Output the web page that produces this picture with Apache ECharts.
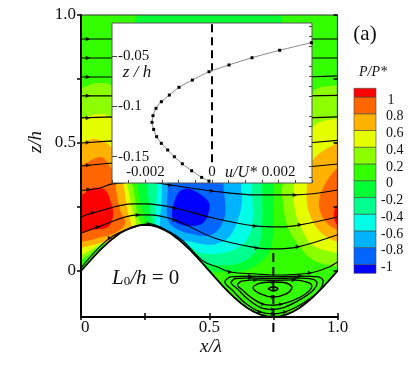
<!DOCTYPE html>
<html><head><meta charset="utf-8">
<style>html,body{margin:0;padding:0;background:#fff}#c{width:415px;height:369px}</style>
<script src="https://cdn.jsdelivr.net/npm/echarts@6/dist/echarts.min.js"></script>
</head><body><div id="c"></div>
<script>
// ---- bed profile z/h against x/lambda
const bedX=[0,.025,.05,.075,.1,.125,.15,.175,.2,.225,.25,.275,.3,.325,.35,.375,.4,.425,.45,.475,.5,.525,.55,.575,.6,.625,.65,.675,.7,.725,.75,.775,.8,.825,.85,.875,.9,.925,.95,.975,1];
const bedZ=[0,.028,.056,.082,.106,.127,.146,.16,.171,.178,.18,.178,.171,.16,.146,.127,.106,.082,.056,.028,0,-.028,-.056,-.082,-.106,-.127,-.146,-.16,-.171,-.178,-.18,-.178,-.171,-.16,-.146,-.127,-.106,-.082,-.056,-.028,0];
// ---- pressure contours, [x/lambda, z/h]
const negP0=[[.25,1.05],[.75,1.05],[.749,.5],[.749,.316],[.745,.109],[.71,.043],[.632,0],[.503,-.008],[.4,-.05],[.26,.1],[.253,.18],[.242,.227],[.222,.324],[.22,.5]];
const negP2=[[.257,.395],[.706,.395],[.706,.324],[.706,.176],[.686,.082],[.62,.031],[.53,.023],[.464,.039],[.35,.04],[.273,.152],[.273,.18],[.269,.238],[.257,.328]];
const negP4=[[.296,.395],[.667,.395],[.667,.324],[.667,.176],[.628,.102],[.554,.07],[.464,.07],[.425,.09],[.36,.03],[.292,.12],[.289,.168],[.296,.324]];
const negP6=[[.316,.395],[.624,.395],[.624,.324],[.628,.277],[.612,.199],[.573,.129],[.503,.102],[.398,.117],[.36,.09],[.32,.12],[.308,.168],[.312,.25],[.316,.324]];
const negP8=[[.339,.395],[.554,.395],[.554,.35],[.561,.277],[.561,.215],[.534,.16],[.495,.137],[.413,.148],[.366,.168],[.339,.199],[.335,.266],[.339,.33]];
const negP10=[[.425,.32],[.495,.273],[.499,.234],[.476,.1875],[.425,.176],[.374,.1875],[.355,.215],[.366,.277],[.386,.3125]];
const posL2=[[-.05,.715],[0,.715],[.062,.734],[.121,.719],[.18,.395],[.203,.324],[.222,.211],[.234,.18],[.21,.12],[.097,.109],[0,.043],[-.05,.043]];
const posL4=[[-.05,.598],[0,.598],[.066,.613],[.117,.598],[.168,.395],[.183,.324],[.203,.227],[.214,.18],[.172,.10],[.105,.115],[0,.0625],[-.05,.0625]];
const posL6=[[-.05,.5],[0,.5],[.055,.516],[.117,.484],[.152,.395],[.168,.324],[.183,.227],[.195,.176],[.16,.113],[.113,.117],[0,.09],[-.05,.09]];
const posL8=[[-.05,.414],[0,.414],[.078,.445],[.117,.402],[.136,.355],[.136,.324],[.152,.238],[.172,.1875],[.133,.148],[.066,.129],[0,.113],[-.05,.113]];
const posL10=[[-.05,.30],[0,.297],[.047,.324],[.094,.316],[.117,.266],[.125,.219],[.105,.172],[.039,.16],[0,.148],[-.05,.148]];
const posR2=[[1.05,.74],[1,.727],[.905,.699],[.81,.395],[.784,.324],[.788,.266],[.803,.18],[.842,.109],[.905,.043],[1,.016],[1.05,.016]];
const posR4=[[1.05,.60],[1,.598],[.905,.5625],[.853,.395],[.827,.316],[.838,.219],[.866,.152],[.905,.098],[1,.07],[1.05,.07]];
const posR6=[[1.05,.51],[1,.5],[.905,.434],[.88,.316],[.889,.227],[.932,.152],[1,.113],[1.05,.113]];
const posR8=[[1.05,.41],[1,.402],[.94,.316],[.928,.25],[.955,.191],[1,.16],[1.05,.16]];
const posR10=[[1.05,.26],[1,.258],[.986,.219],[1,.18],[1.05,.18]];
// ---- streamlines
const upperLines=[
 [[0,.906],[.121,.906],[.88,.906],[1,.906]],
 [[0,.832],[.121,.832],[.88,.832],[1,.832]],
 [[0,.758],[.121,.758],[.88,.758],[1,.762]],
 [[0,.684],[.121,.684],[.88,.684],[1,.686]],
 [[0,.598],[.121,.602],[.88,.598],[1,.602]],
 [[0,.5],[.121,.508],[.88,.5],[1,.51]],
 [[0,.41],[.121,.422],[.88,.406],[1,.418]]];
const line1=[[0,.314],[.074,.324],[.121,.34],[.25,.348],[.347,.336],[.511,.3125],[.686,.297],[.834,.297],[1,.316]];
const line2=[[0,.211],[.047,.227],[.203,.262],[.257,.262],[.366,.246],[.515,.207],[.678,.176],[.776,.172],[.854,.18],[1,.211]];
const line3=[[0,.148],[.066,.172],[.222,.219],[.261,.219],[.366,.199],[.519,.129],[.686,.09],[.749,.086],[.846,.094],[1,.141]];
const line4=[[0,.012],[.113,.129],[.222,.176],[.265,.184],[.347,.152],[.398,.117],[.476,.039],[.53,.016],[.581,-.004],[.686,-.012],[.749,-.016],[.893,-.008],[.959,.012],[1,.035]];
const loopA=[[.581,-.023],[.659,-.02],[.749,-.023],[.854,-.02],[.924,-.023],[.944,-.039],[.924,-.082],[.854,-.133],[.796,-.16],[.749,-.168],[.698,-.16],[.64,-.125],[.589,-.074],[.561,-.043],[.581,-.023]];
const loopB=[[.60,-.03],[.66,-.027],[.749,-.03],[.84,-.027],[.905,-.033],[.92,-.047],[.90,-.08],[.84,-.12],[.79,-.143],[.749,-.15],[.70,-.143],[.65,-.11],[.61,-.07],[.585,-.045],[.60,-.03]];
const loopC=[[.625,-.04],[.68,-.035],[.749,-.037],[.83,-.035],[.885,-.045],[.90,-.06],[.875,-.09],[.82,-.118],[.78,-.13],[.749,-.134],[.71,-.13],[.665,-.105],[.63,-.075],[.61,-.055],[.625,-.04]];
const loopD=[[.70,-.047],[.749,-.043],[.80,-.047],[.823,-.065],[.80,-.09],[.749,-.102],[.70,-.09],[.671,-.065],[.70,-.047]];
const loopE=[[.729,-.07],[.749,-.062],[.768,-.07],[.749,-.078],[.729,-.07]];
const arrows=[[.027,.906],[.027,.832],[.027,.758],[.027,.684],[.027,.598],[.027,.502],[.027,.413],
 [.03,.318],[.347,.336],[.511,.3125],[.834,.297],
 [.047,.227],[.366,.246],[.678,.176],[.854,.18],
 [.066,.172],[.222,.219],[.366,.199],[.686,.09],[.846,.094],
 [.113,.129],[.265,.184],[.581,-.004],[.893,-.008]];
const arrowsLoop=[[.659,-.02],[.854,-.02],[.66,-.027],[.84,-.027],[.68,-.035],[.83,-.035],[.749,-.043],[.749,-.168],[.698,-.16],[.796,-.16],[.71,-.13],[.78,-.13],[.749,-.102],[.749,-.15]];
const wakeDash=[[.75,.07],[.75,-.25]];
// ---- inset profile
const insetU=[.00298,.00203,.0012,.00051,-.00009,-.00059,-.00099,-.00128,-.00152,-.00168,-.00177,-.0018,-.00175,-.00166,-.00152,-.00133,-.00113,-.00089,-.00061,-.00031,-.00009];
const insetZ=[-.0368,-.0443,-.0517,-.0589,-.0656,-.0739,-.0811,-.0888,-.0954,-.102,-.1093,-.1159,-.1229,-.1302,-.1368,-.1434,-.1501,-.1571,-.164,-.1706,-.1743];
const insetZeroDash=[[0,-.0185],[0,-.157]];
const insetUTicks=[-.002,0,.002];
const insetZTicks=[-.05,-.1,-.15];
const insetZMinor=[-.02,-.03,-.04,-.06,-.07,-.08,-.09,-.11,-.12,-.13,-.14,-.16,-.17];
// ---- colour scale
const levelColors=['#0000ff','#0066ff','#00b3ff','#00ffe6','#00ff8c','#00ff33','#33ff00','#8cff00','#e6ff00','#ffb300','#ff6600','#ff0000'];
const levelEdges=[-1.107,-1,-.8,-.6,-.4,-.2,0,.2,.4,.6,.8,1,1.104];
const levelLabels=[1,.8,.6,.4,.2,0,-.2,-.4,-.6,-.8,-1];
const xTickLabels=[0,.5,1];
const zTickLabels=[0,.5,1];

const C={n10:levelColors[0],n8:levelColors[1],n6:levelColors[2],n4:levelColors[3],n2:levelColors[4],n0:levelColors[5],p0:levelColors[6],p2:levelColors[7],p4:levelColors[8],p6:levelColors[9],p8:levelColors[10],p10:levelColors[11]};
const bands=[
 {p:[[-.05,1.05],[1.05,1.05],[1.05,-.3],[-.05,-.3]],c:C.p0,flat:true},
 {p:negP0,c:C.n0},{p:negP2,c:C.n2},{p:negP4,c:C.n4},{p:negP6,c:C.n6},{p:negP8,c:C.n8},{p:negP10,c:C.n10},
 {p:posL2,c:C.p2},{p:posL4,c:C.p4},{p:posL6,c:C.p6},{p:posL8,c:C.p8},{p:posL10,c:C.p10},
 {p:posR2,c:C.p2},{p:posR4,c:C.p4},{p:posR6,c:C.p6},{p:posR8,c:C.p8},{p:posR10,c:C.p10}];
const bed=bedX.map((x,i)=>[x,bedZ[i]]);
const mask=bed.concat([[1.05,0],[1.05,-.3],[-.05,-.3],[-.05,0]]);
const serif='"Liberation Serif","Times New Roman",serif';
const streamLine=(d,w)=>({type:'line',xAxisIndex:0,yAxisIndex:0,data:d,smooth:.35,symbol:'none',silent:true,z:4,lineStyle:{color:'#000',width:w||1.1},clip:true});
const fmtMain=v=>v===0?'0':v.toFixed(1);

const chart=echarts.init(document.getElementById('c'),null,{renderer:'canvas'});
chart.setOption({
 animation:false,
 backgroundColor:'#fff',
 grid:[
  {left:81,top:15,width:256.5,height:302,show:false},
  {left:112,top:23,width:200,height:160,show:true,backgroundColor:'#fff',borderColor:'#555',borderWidth:1,z:10},
  {left:354,top:88.3,width:22,height:185,show:false}],
 xAxis:[
  {gridIndex:0,type:'value',min:0,max:1,interval:.25,z:6,position:'bottom',splitLine:{show:false},
   axisLine:{show:true,onZero:false,lineStyle:{color:'#000',width:2}},
   axisTick:{show:true,length:3,lineStyle:{color:'#000',width:1.5}},
   axisLabel:{color:'#111',fontFamily:serif,fontSize:17,margin:2,customValues:xTickLabels,alignMinLabel:'left',formatter:fmtMain}},
  {gridIndex:0,type:'value',min:0,max:1,interval:.25,z:6,position:'bottom',splitLine:{show:false},
   axisLine:{show:false,onZero:false},axisTick:{show:true,inside:true,length:4,lineStyle:{color:'#000',width:1.5}},axisLabel:{show:false}},
  {gridIndex:1,type:'value',min:-.003,max:.003,interval:.0005,z:12,splitLine:{show:false},
   axisLine:{show:false,onZero:false},
   axisTick:{show:true,inside:true,length:3,lineStyle:{color:'#444',width:1}},
   axisLabel:{inside:true,margin:3,color:'#111',fontFamily:serif,fontSize:15,customValues:insetUTicks,formatter:v=>v===0?'0':v.toFixed(3)}},
  {gridIndex:2,type:'value',min:0,max:1,show:false}],
 yAxis:[
  {gridIndex:0,type:'value',min:-.18,max:1,z:6,splitLine:{show:false},
   axisLine:{show:true,onZero:false,lineStyle:{color:'#000',width:2}},
   axisTick:{show:true,length:4,customValues:[0,.25,.5,.75,1],lineStyle:{color:'#000',width:1.5}},
   axisLabel:{color:'#111',fontFamily:serif,fontSize:17,margin:5,customValues:zTickLabels,formatter:fmtMain}},
  {gridIndex:0,type:'value',min:-.18,max:1,z:6,splitLine:{show:false},
   axisLine:{show:false,onZero:false},axisTick:{show:true,inside:true,length:4,customValues:[0,.25,.5,.75,1],lineStyle:{color:'#000',width:1.5}},axisLabel:{show:false}},
  {gridIndex:1,type:'value',min:-.1762,max:-.0172,z:12,splitLine:{show:false},
   axisLine:{show:false,onZero:false},
   axisTick:{show:true,inside:true,length:5,customValues:insetZTicks,lineStyle:{color:'#444',width:1}},
   axisLabel:{inside:true,margin:6,color:'#111',fontFamily:serif,fontSize:15,customValues:insetZTicks,formatter:v=>String(v)}},
  {gridIndex:1,type:'value',min:-.1762,max:-.0172,z:12,splitLine:{show:false},
   axisLine:{show:false,onZero:false},
   axisTick:{show:true,inside:true,length:3,customValues:insetZMinor,lineStyle:{color:'#444',width:1}},axisLabel:{show:false}},
  {gridIndex:2,type:'value',min:-1.107,max:1.104,show:false}],
 graphic:[
  {type:'text',x:36,y:142,rotation:Math.PI/2,z:20,style:{text:'z/h',font:'italic 19px '+serif,fill:'#111',align:'center',verticalAlign:'middle'}},
  {type:'text',x:211,y:347,z:20,style:{text:'x/λ',font:'italic 19px '+serif,fill:'#111',align:'center',verticalAlign:'middle'}},
  {type:'text',x:137,y:73,z:20,style:{text:'z / h',font:'italic 17px '+serif,fill:'#111',align:'center',verticalAlign:'middle'}},
  {type:'text',x:241,y:173,z:20,style:{text:'u/U*',font:'italic 16px '+serif,fill:'#111',align:'center',verticalAlign:'middle'}},
  {type:'text',x:365,y:34,z:20,style:{text:'(a)',font:'21px '+serif,fill:'#111',align:'center',verticalAlign:'middle'}},
  {type:'text',x:373,y:72,z:20,style:{text:'P/P*',font:'italic 14px '+serif,fill:'#111',align:'center',verticalAlign:'middle'}},
  {type:'text',x:112,y:278,z:20,style:{rich:{a:{font:'italic 21px '+serif,fill:'#111'},s:{font:'13px '+serif,fill:'#111',verticalAlign:'bottom'},b:{font:'21px '+serif,fill:'#111'}},text:'{a|L}{s|0}{a|/h}{b| = 0}',verticalAlign:'middle'}}],
 series:[
  {type:'custom',xAxisIndex:0,yAxisIndex:0,clip:true,silent:true,z:2,coordinateSystem:'cartesian2d',data:bands.map((b,i)=>[i]),encode:{x:0},
   renderItem:(p,api)=>{const b=bands[p.dataIndex];return{type:'polygon',shape:{points:b.p.map(q=>api.coord(q)),smooth:b.flat?0:.35,smoothConstraint:false},style:{fill:b.c}}}},
  {type:'custom',xAxisIndex:0,yAxisIndex:0,clip:true,silent:true,z:3,data:[[0]],encode:{x:0},
   renderItem:(p,api)=>({type:'polygon',shape:{points:mask.map(q=>api.coord(q))},style:{fill:'#fff'}})},
  {type:'line',xAxisIndex:0,yAxisIndex:0,data:[[0,1],[1,1],[1,0]],symbol:'none',silent:true,z:4,lineStyle:{color:'#333',width:1.2},clip:false},
  {type:'line',xAxisIndex:0,yAxisIndex:0,data:bed,symbol:'none',silent:true,z:4,lineStyle:{color:'#000',width:1.8},clip:false},
  ...upperLines.map(l=>({type:'line',xAxisIndex:0,yAxisIndex:0,data:l,symbol:'none',silent:true,z:4,lineStyle:{color:'#000',width:1.1}})),
  streamLine(line1),streamLine(line2),streamLine(line3),streamLine(line4),
  streamLine(loopA,1.3),streamLine(loopB,1.3),streamLine(loopC,1.3),streamLine(loopD,1.4),streamLine(loopE,1.6),
  {type:'scatter',xAxisIndex:0,yAxisIndex:0,data:arrows.concat(arrowsLoop),symbol:'triangle',symbolSize:4.5,symbolRotate:-90,silent:true,z:5,itemStyle:{color:'#000'}},
  {type:'line',xAxisIndex:0,yAxisIndex:0,data:wakeDash,symbol:'none',silent:true,z:5,clip:false,lineStyle:{color:'#000',width:2,type:[9,5]}},
  {type:'line',xAxisIndex:2,yAxisIndex:2,data:insetU.map((u,i)=>[u,insetZ[i]]),smooth:.2,symbol:'rect',symbolSize:3,silent:true,z:14,lineStyle:{color:'#888',width:1},itemStyle:{color:'#000'}},
  {type:'line',xAxisIndex:2,yAxisIndex:2,data:insetZeroDash,symbol:'none',silent:true,z:13,lineStyle:{color:'#000',width:2,type:[8,5]}},
  {type:'custom',xAxisIndex:3,yAxisIndex:4,silent:true,z:3,data:levelColors.map((c,i)=>[i]),encode:{x:0},
   renderItem:(p,api)=>{const i=p.dataIndex,a=api.coord([0,levelEdges[i]]),b=api.coord([1,levelEdges[i+1]]);
    return{type:'rect',shape:{x:a[0],y:b[1],width:b[0]-a[0],height:a[1]-b[1]},style:{fill:levelColors[i],stroke:'#444',lineWidth:.6}}}},
  {type:'custom',xAxisIndex:3,yAxisIndex:4,silent:true,z:3,data:levelLabels.map((c,i)=>[i]),encode:{x:0},
   renderItem:(p,api)=>{const v=levelLabels[p.dataIndex],c=api.coord([1,v]);
    return{type:'text',x:c[0]+(v<0?5:(v===1?11.5:10)),y:c[1]+3,style:{text:String(v),font:'14px '+serif,fill:'#111',verticalAlign:'middle',align:'left'}}}}
 ]
});
</script></body></html>
